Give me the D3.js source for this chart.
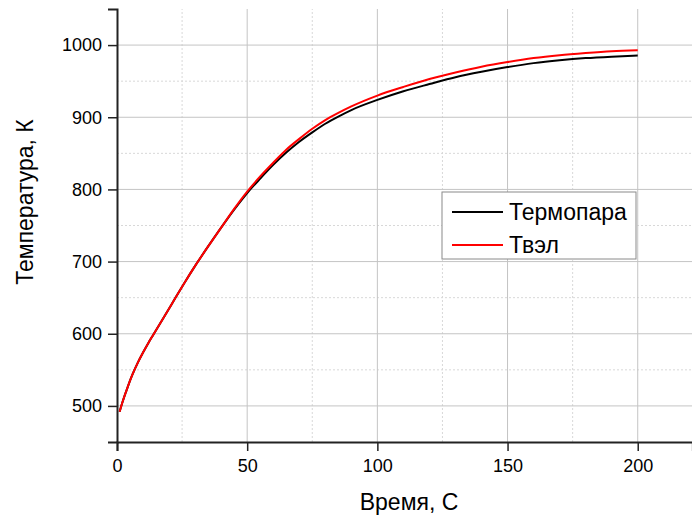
<!DOCTYPE html>
<html>
<head>
<meta charset="utf-8">
<script src="https://cdn.jsdelivr.net/npm/d3@7"></script>
<style>
    body { margin: 0; background: #fff; }
    svg { display: block; font-family: "Liberation Sans", Arial, sans-serif; }
    .grid-major { stroke: #c4c4c4; stroke-width: 1; }
    .grid-minor { stroke: #d8d8d8; stroke-width: 1; stroke-dasharray: 2,2; }
</style>
</head>
<body>
<div id="chart"></div>
<script>
// time, s
const time = [1, 2, 3, 4, 5, 6, 8, 10, 12, 14, 18, 22, 26, 30, 35, 40, 45, 50, 55, 60, 65, 70, 75, 80, 85, 90,
    100, 110, 120, 130, 140, 150, 160, 170, 180, 190, 200];
// Термопара (black)
const thermocouple = [492, 504, 515, 525, 535, 544, 560, 574, 587, 599, 623, 647, 671, 694, 721, 747, 772, 795, 815, 834, 851, 866, 879, 891, 901, 910,
    924, 936, 946, 955.5, 963, 969.5, 975, 979, 982, 984, 985.5];
// Твэл (red)
const fuelRod = [492, 504, 515, 525, 535, 544, 560, 574, 587, 599, 623, 647, 671, 694, 721, 747, 773, 797, 818, 837, 855, 870, 884, 896, 906, 915,
    930, 942, 953, 962, 970, 976.5, 982, 986, 989, 991.5, 993];

const seriesNames = ["Термопара", "Твэл"];
const seriesColors = ["#000000", "#ff0000"];
const xTicks = [0, 50, 100, 150, 200];
const xMinorTicks = [25, 75, 125, 175];
const yTicks = [500, 600, 700, 800, 900, 1000];
const yMinorTicks = [450, 550, 650, 750, 850, 950, 1050];

const width = 692, height = 518;

const svg = d3.select("#chart").append("svg")
    .attr("width", width)
    .attr("height", height);

const xScale = d3.scaleLinear().domain([0, 221]).range([117, 692.4]);
const yScale = d3.scaleLinear().domain([450, 1050]).range([442, 9]);

// grid lines
svg.append("g").selectAll("line")
    .data(xMinorTicks).enter().append("line")
    .attr("class", "grid-minor")
    .attr("x1", d => xScale(d)).attr("x2", d => xScale(d))
    .attr("y1", yScale(450)).attr("y2", yScale(1050));
svg.append("g").selectAll("line")
    .data(yMinorTicks.filter(d => d > 450 && d < 1050)).enter().append("line")
    .attr("class", "grid-minor")
    .attr("x1", xScale(0)).attr("x2", xScale(221))
    .attr("y1", d => yScale(d)).attr("y2", d => yScale(d));
svg.append("g").selectAll("line")
    .data(xTicks.filter(d => d > 0)).enter().append("line")
    .attr("class", "grid-major")
    .attr("x1", d => xScale(d)).attr("x2", d => xScale(d))
    .attr("y1", yScale(450)).attr("y2", yScale(1050));
svg.append("g").selectAll("line")
    .data(yTicks).enter().append("line")
    .attr("class", "grid-major")
    .attr("x1", xScale(0)).attr("x2", xScale(221))
    .attr("y1", d => yScale(d)).attr("y2", d => yScale(d));

// curves
const line = d3.line()
    .x((d, i) => xScale(time[i]))
    .y(d => yScale(d))
    .curve(d3.curveMonotoneX);

[thermocouple, fuelRod].forEach((values, i) => {
    svg.append("path")
        .datum(values)
        .attr("fill", "none")
        .attr("stroke", seriesColors[i])
        .attr("stroke-width", 2)
        .attr("d", line);
});

// axes
const xAxisG = svg.append("g")
    .attr("transform", "translate(0," + yScale(450) + ")");
xAxisG.call(d3.axisBottom(xScale).tickValues(xMinorTicks).tickSize(5).tickFormat(""));
xAxisG.call(d3.axisBottom(xScale).tickValues(xTicks).tickSize(9).tickPadding(8).tickFormat(d3.format("d")));

const yAxisG = svg.append("g")
    .attr("transform", "translate(" + xScale(0) + ",0)");
yAxisG.call(d3.axisLeft(yScale).tickValues(yMinorTicks).tickSize(5).tickFormat(""));
yAxisG.call(d3.axisLeft(yScale).tickValues(yTicks).tickSize(9).tickPadding(6).tickFormat(d3.format("d")));

svg.selectAll(".domain").attr("stroke", "#222").attr("stroke-width", 2);
svg.selectAll(".tick line").attr("stroke", "#222").attr("stroke-width", 1.5);
svg.selectAll(".tick text")
    .attr("fill", "#000")
    .style("font-size", "18px")
    .style("font-family", "'Liberation Sans', Arial, sans-serif");

// axis titles
svg.append("text")
    .attr("x", 409)
    .attr("y", 510)
    .attr("text-anchor", "middle")
    .style("font-size", "23px")
    .text("Время, С");

svg.append("text")
    .attr("transform", "translate(33,202)rotate(-90)")
    .attr("text-anchor", "middle")
    .style("font-size", "23px")
    .text("Температура, К");

// legend
const legend = svg.append("g");
legend.append("rect")
    .attr("x", 442).attr("y", 192)
    .attr("width", 194).attr("height", 67)
    .attr("fill", "#fff")
    .attr("stroke", "#8a8a8a")
    .attr("stroke-width", 1);

seriesNames.forEach((name, i) => {
    let yy = 212 + i * 33;
    legend.append("line")
        .attr("x1", 452).attr("x2", 503)
        .attr("y1", yy).attr("y2", yy)
        .attr("stroke", seriesColors[i])
        .attr("stroke-width", 2);
    legend.append("text")
        .attr("x", 509)
        .attr("y", yy + 8)
        .style("font-size", "23px")
        .text(name);
});
</script>
</body>
</html>
